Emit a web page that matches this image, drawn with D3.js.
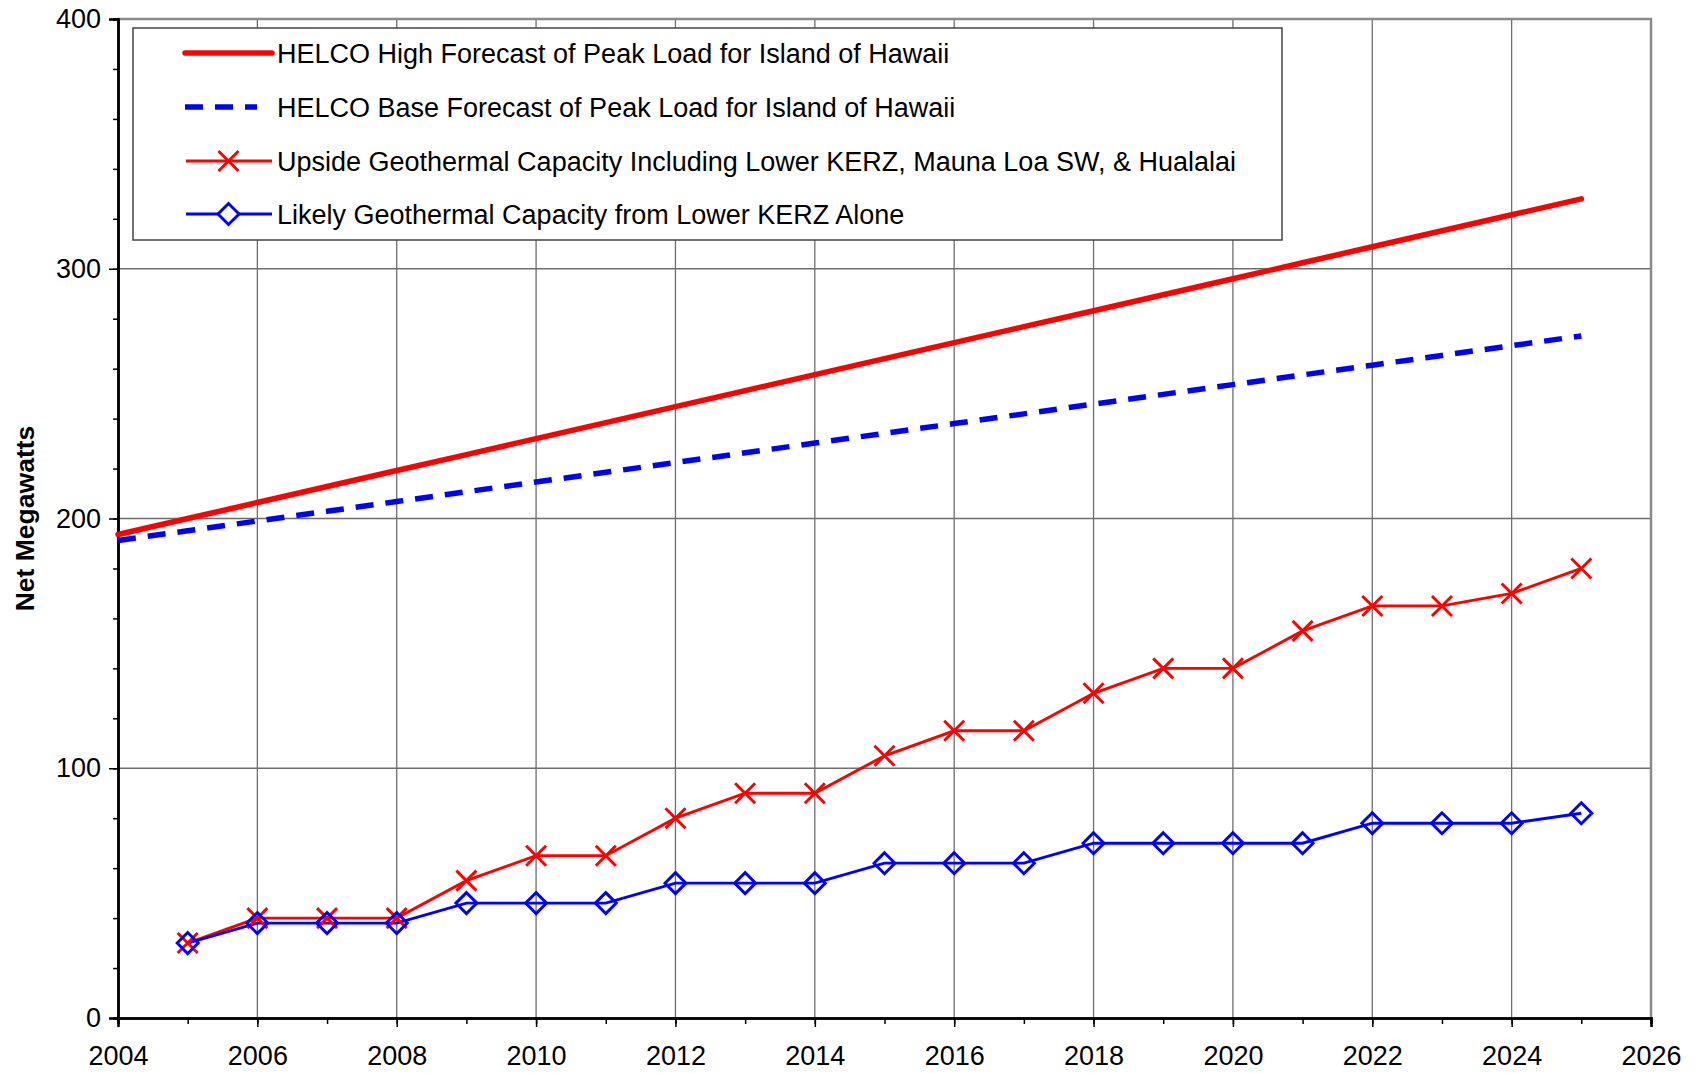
<!DOCTYPE html>
<html>
<head>
<meta charset="utf-8">
<script src="https://cdn.jsdelivr.net/npm/d3@7"></script>
<style>
  html, body { margin: 0; padding: 0; background: #fff; }
  svg { display: block; font-family: "Liberation Sans", Arial, sans-serif; }
</style>
</head>
<body>
<svg id="chart" width="1695" height="1073"></svg>
<script>
// ---- Data ----
const forecastYears = [2004, 2005, 2006, 2007, 2008, 2009, 2010, 2011, 2012, 2013, 2014,
                       2015, 2016, 2017, 2018, 2019, 2020, 2021, 2022, 2023, 2024, 2025];
const highForecast = [193.6, 200, 206.4, 212.8, 219.2, 225.6, 232, 238.4, 244.8, 251.2, 257.6,
                      264, 270.4, 276.8, 283.2, 289.6, 296, 302.4, 308.8, 315.2, 321.6, 328];
const baseForecast = [191.2, 195.1, 199, 202.9, 206.8, 210.7, 214.6, 218.5, 222.4, 226.3, 230.2,
                      234.1, 238, 241.9, 245.8, 249.7, 253.6, 257.5, 261.4, 265.3, 269.2, 273.1];
const capacityYears = [2005, 2006, 2007, 2008, 2009, 2010, 2011, 2012, 2013, 2014,
                       2015, 2016, 2017, 2018, 2019, 2020, 2021, 2022, 2023, 2024, 2025];
const upsideCapacity = [30, 40, 40, 40, 55, 65, 65, 80, 90, 90,
                        105, 115, 115, 130, 140, 140, 155, 165, 165, 170, 180];
const likelyCapacity = [30, 38, 38, 38, 46, 46, 46, 54, 54, 54,
                        62, 62, 62, 70, 70, 70, 70, 78, 78, 78, 82];
const xTickLabels = [2004, 2006, 2008, 2010, 2012, 2014, 2016, 2018, 2020, 2022, 2024, 2026];
const yTickLabels = [0, 100, 200, 300, 400];
const legendLabels = [
  "HELCO High Forecast of Peak Load for Island of Hawaii",
  "HELCO Base Forecast of Peak Load for Island of Hawaii",
  "Upside Geothermal Capacity Including Lower KERZ, Mauna Loa SW, & Hualalai",
  "Likely Geothermal Capacity from Lower KERZ Alone"
];
const yAxisTitle = "Net Megawatts";

// ---- Layout ----
const svg = d3.select("#chart");
const X0 = 118, X1 = 1651, Y0 = 19, Y1 = 1018;
const RED = "#ff0000", BLUE = "#0000ff";
const FONT = "Liberation Sans, Arial, sans-serif";
const SW = 2.9;

const x = d3.scaleLinear().domain([2004, 2026]).range([X0, X1]);
const y = d3.scaleLinear().domain([0, 400]).range([Y1, Y0]);

svg.append("rect").attr("width", 1695).attr("height", 1073).attr("fill", "#fff");

// Grid
const grid = svg.append("g");
grid.selectAll("line.v").data(xTickLabels.filter(d => d > 2004 && d < 2026)).join("line")
  .attr("x1", d => x(d)).attr("x2", d => x(d)).attr("y1", Y0).attr("y2", Y1)
  .attr("stroke", "#6e6e6e").attr("stroke-width", 1.3);
grid.selectAll("line.h").data(yTickLabels.filter(d => d > 0 && d < 400)).join("line")
  .attr("x1", X0).attr("x2", X1).attr("y1", d => y(d)).attr("y2", d => y(d))
  .attr("stroke", "#6e6e6e").attr("stroke-width", 1.3);

// Plot border (top/right gray)
svg.append("path")
  .attr("d", `M${X0},${Y0}H${X1}V${Y1}`)
  .attr("fill", "none").attr("stroke", "#8a8a8a").attr("stroke-width", 2.5);

// Y axis
const yAxis = d3.axisLeft(y).tickValues(yTickLabels).tickSize(9).tickPadding(8)
  .tickFormat(d3.format("d"));
const yMinor = d3.axisLeft(y).tickValues(d3.range(0, 401, 20)).tickSize(5).tickFormat("");
const gyMinor = svg.append("g").attr("transform", `translate(${X0},0)`).call(yMinor);
const gy = svg.append("g").attr("transform", `translate(${X0},0)`).call(yAxis);
[gy, gyMinor].forEach(g => {
  g.select(".domain").attr("stroke", "#000").attr("stroke-width", 2.5);
  g.selectAll(".tick line").attr("stroke", "#000").attr("stroke-width", 1.5);
});
gy.selectAll(".tick text").attr("font-size", 27).attr("fill", "#000").attr("font-family", FONT);

// X axis
const xAxis = d3.axisBottom(x).tickValues(xTickLabels).tickSize(9).tickPadding(19)
  .tickFormat(d3.format("d"));
const xMinor = d3.axisBottom(x).tickValues(d3.range(2004, 2027, 1)).tickSize(6).tickFormat("");
const gxMinor = svg.append("g").attr("transform", `translate(0,${Y1})`).call(xMinor);
const gx = svg.append("g").attr("transform", `translate(0,${Y1})`).call(xAxis);
[gx, gxMinor].forEach(g => {
  g.select(".domain").attr("stroke", "#000").attr("stroke-width", 2.5);
  g.selectAll(".tick line").attr("stroke", "#000").attr("stroke-width", 1.5);
});
gx.selectAll(".tick text").attr("font-size", 27).attr("fill", "#000").attr("font-family", FONT);

// Y axis title
svg.append("text")
  .attr("transform", `translate(34,${(Y0 + Y1) / 2}) rotate(-90)`)
  .attr("text-anchor", "middle")
  .attr("font-size", 26.5).attr("font-weight", "bold").attr("font-family", FONT)
  .text(yAxisTitle);

// Series
const line = d3.line().x(d => x(d[0])).y(d => y(d[1]));
const highPts = forecastYears.map((yr, i) => [yr, highForecast[i]]);
const basePts = forecastYears.map((yr, i) => [yr, baseForecast[i]]);
const upPts = capacityYears.map((yr, i) => [yr, upsideCapacity[i]]);
const likPts = capacityYears.map((yr, i) => [yr, likelyCapacity[i]]);

const plot = svg.append("g");
plot.append("path").datum(highPts).attr("d", line)
  .attr("fill", "none").attr("stroke", RED).attr("stroke-width", 5.5).attr("stroke-linecap", "round");
plot.append("path").datum(basePts).attr("d", line)
  .attr("fill", "none").attr("stroke", BLUE).attr("stroke-width", 5.5).attr("stroke-dasharray", "18,12");

plot.append("path").datum(upPts).attr("d", line)
  .attr("fill", "none").attr("stroke", RED).attr("stroke-width", SW);
plot.append("path").datum(likPts).attr("d", line)
  .attr("fill", "none").attr("stroke", BLUE).attr("stroke-width", SW);

const xMark = (cx, cy, s) => `M${cx - s},${cy - s}L${cx + s},${cy + s}M${cx - s},${cy + s}L${cx + s},${cy - s}`;
const diamond = (cx, cy, s) => `M${cx},${cy - s}L${cx + s},${cy}L${cx},${cy + s}L${cx - s},${cy}Z`;

plot.selectAll("path.xm").data(upPts).join("path").attr("class", "xm")
  .attr("d", d => xMark(x(d[0]), y(d[1]), 10))
  .attr("fill", "none").attr("stroke", RED).attr("stroke-width", SW);
plot.selectAll("path.dm").data(likPts).join("path").attr("class", "dm")
  .attr("d", d => diamond(x(d[0]), y(d[1]), 10.5))
  .attr("fill", "none").attr("stroke", BLUE).attr("stroke-width", SW);

// Legend
const lg = svg.append("g");
lg.append("rect").attr("x", 133).attr("y", 28).attr("width", 1149).attr("height", 212)
  .attr("fill", "#fff").attr("stroke", "#444").attr("stroke-width", 1.5);
const rowsY = [53, 107, 161, 214];
const LX0 = 185, LX1 = 272;
lg.append("line").attr("x1", LX0).attr("x2", LX1).attr("y1", rowsY[0]).attr("y2", rowsY[0])
  .attr("stroke", RED).attr("stroke-width", 5.5).attr("stroke-linecap", "round");
lg.append("line").attr("x1", LX0).attr("x2", LX1 - 15).attr("y1", rowsY[1]).attr("y2", rowsY[1])
  .attr("stroke", BLUE).attr("stroke-width", 5.5).attr("stroke-dasharray", "18,12");
lg.append("line").attr("x1", LX0 + 1).attr("x2", LX1).attr("y1", rowsY[2]).attr("y2", rowsY[2])
  .attr("stroke", RED).attr("stroke-width", SW);
lg.append("path").attr("d", xMark((LX0 + LX1) / 2, rowsY[2], 10))
  .attr("fill", "none").attr("stroke", RED).attr("stroke-width", SW);
lg.append("line").attr("x1", LX0 + 1).attr("x2", LX1).attr("y1", rowsY[3]).attr("y2", rowsY[3])
  .attr("stroke", BLUE).attr("stroke-width", SW);
lg.append("path").attr("d", diamond((LX0 + LX1) / 2, rowsY[3], 10.5))
  .attr("fill", "#fff").attr("stroke", BLUE).attr("stroke-width", SW);

lg.selectAll("text").data(legendLabels).join("text")
  .attr("x", 277).attr("y", (d, i) => rowsY[i])
  .attr("dy", "0.36em")
  .attr("font-size", 27).attr("fill", "#000").attr("font-family", FONT)
  .text(d => d);
</script>
</body>
</html>
